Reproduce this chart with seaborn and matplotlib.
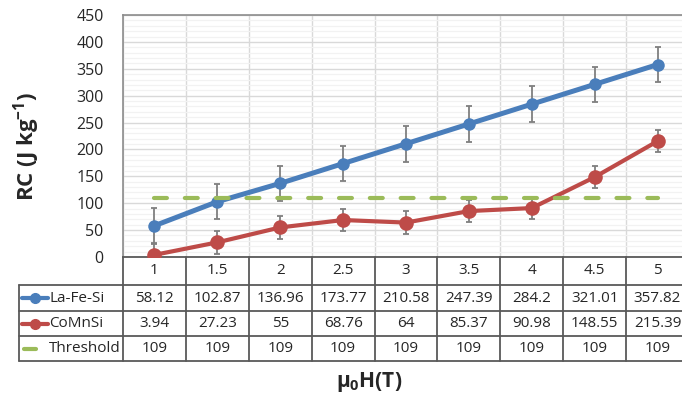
import numpy as np
import pandas as pd
import matplotlib.pyplot as plt
import seaborn as sns
from matplotlib.lines import Line2D

# Data
fields = ['1', '1.5', '2', '2.5', '3', '3.5', '4', '4.5', '5']
la_fe_si = [58.12, 102.87, 136.96, 173.77, 210.58, 247.39, 284.2, 321.01, 357.82]
comnsi = [3.94, 27.23, 55, 68.76, 64, 85.37, 90.98, 148.55, 215.39]
threshold = [109, 109, 109, 109, 109, 109, 109, 109, 109]
la_fe_si_err = [33, 33, 33, 33, 33, 33, 33, 33, 33]
comnsi_err = [21, 21, 21, 21, 21, 21, 21, 21, 21]
series_names = ['La-Fe-Si', 'CoMnSi', 'Threshold']

sns.set_style('white')
plt.rcParams['font.family'] = ['Open Sans', 'DejaVu Sans']
plt.rcParams['mathtext.fontset'] = 'custom'
plt.rcParams['mathtext.rm'] = 'Open Sans'
plt.rcParams['mathtext.bf'] = 'Open Sans:bold'

blue = '#4A7EBB'
red = '#BE4B48'
green = '#9BBB59'
err_col = '#7F7F7F'
line_col = '#595959'
text_col = '#262626'

W, H = 682, 395
fig = plt.figure(figsize=(W / 100, H / 100), dpi=100)

# plot area (pixel layout of the original)
left, right, top, bottom = 123, 689, 15, 257
ax = fig.add_axes([left / W, 1 - bottom / H, (right - left) / W, (bottom - top) / H])

xpos = np.arange(len(fields))
df = pd.DataFrame({'pos': xpos, 'La-Fe-Si': la_fe_si, 'CoMnSi': comnsi, 'Threshold': threshold})

ax.errorbar(xpos, la_fe_si, yerr=la_fe_si_err, fmt='none', ecolor=err_col,
            elinewidth=1.3, capsize=2.5, capthick=1.3, zorder=2)
ax.errorbar(xpos, comnsi, yerr=comnsi_err, fmt='none', ecolor=err_col,
            elinewidth=1.3, capsize=2.5, capthick=1.3, zorder=2)

sns.lineplot(data=df, x='pos', y='La-Fe-Si', ax=ax, color=blue, marker='o',
             markersize=9, markeredgewidth=0, linewidth=3.6, zorder=3)
sns.lineplot(data=df, x='pos', y='CoMnSi', ax=ax, color=red, marker='o',
             markersize=10.5, markeredgewidth=0, linewidth=3.0, zorder=3)
sns.lineplot(data=df, x='pos', y='Threshold', ax=ax, color=green,
             linewidth=3.0, linestyle=(0, (3.1, 4.3)), dash_capstyle='round', zorder=3)

ax.set_xlim(-0.5, len(fields) - 0.5)
ax.set_ylim(0, 450)
ax.set_yticks(range(0, 451, 50))
ax.set_yticks(range(0, 451, 10), minor=True)
ax.set_xticks([])
ax.set_xticks(np.arange(-0.5, len(fields), 1), minor=True)
ax.grid(which='minor', axis='y', color='#F2F2F2', linewidth=0.9)
ax.grid(which='major', axis='y', color='#D9D9D9', linewidth=1.0)
ax.grid(which='minor', axis='x', color='#D9D9D9', linewidth=1.0)
ax.set_axisbelow(True)
ax.tick_params(axis='both', which='both', length=0)
ax.tick_params(axis='y', pad=14, labelsize=11.5, labelcolor=text_col)
ax.set_xlabel('')
ax.set_ylabel('')
for s in ['left', 'top', 'right']:
    ax.spines[s].set_color('#8C8C8C')
    ax.spines[s].set_linewidth(1.2)
ax.spines['bottom'].set_color(line_col)
ax.spines['bottom'].set_linewidth(1.3)

# data table below the plot
tab = fig.add_axes([left / W, 1 - 361 / H, (right - left) / W, (361 - bottom) / H])
tab.set_xlim(-0.5, len(fields) - 0.5)
tab.set_ylim(104, 0)
tab.axis('off')
cell_w = (right - left) / len(fields)
x_tab_left = -0.5 - (left - 19) / cell_w
rows = [28, 54, 79, 104]
for k in range(len(fields) + 1):
    tab.plot([k - 0.5, k - 0.5], [0, 104], color=line_col, lw=1.3, clip_on=False)
tab.plot([x_tab_left, x_tab_left], [28, 104], color=line_col, lw=1.3, clip_on=False)
for r in rows:
    tab.plot([x_tab_left, len(fields) - 0.5], [r, r], color=line_col, lw=1.3, clip_on=False)

for i, f in enumerate(fields):
    tab.text(i, 14, f, ha='center', va='center', fontsize=11, color=text_col)

centers = [41, 66.5, 91.5]
for vals, yc in zip([la_fe_si, comnsi, threshold], centers):
    for i, v in enumerate(vals):
        tab.text(i, yc, f'{v:g}', ha='center', va='center', fontsize=11, color=text_col)

def px2x(px):
    return -0.5 - (left - px) / cell_w

key_styles = [(blue, 'o', 22, 48), (red, 'o', 22, 48), (green, None, 24, 36)]
for name, yc, (c, m, k0, k1) in zip(series_names, centers, key_styles):
    tab.add_line(Line2D([px2x(k0), px2x(k1)], [yc, yc], color=c, lw=3,
                        solid_capstyle='round', clip_on=False))
    if m:
        tab.plot([px2x((k0 + k1) / 2)], [yc], marker=m, color=c, markersize=7, clip_on=False)
    tab.text(px2x(49), yc, name, ha='left', va='center', fontsize=11, color=text_col)

fig.text(27 / W, 1 - 147 / H, r'RC (J kg$^{\mathbf{-1}}$)', rotation=90,
         ha='center', va='center', fontsize=16, fontweight='bold', color=text_col)
fig.text(369 / W, 1 - 382 / H, r'μ$_{\mathbf{0}}$H(T)', ha='center', va='center',
         fontsize=15, fontweight='bold', color=text_col)

fig.savefig('out.png', dpi=100)
